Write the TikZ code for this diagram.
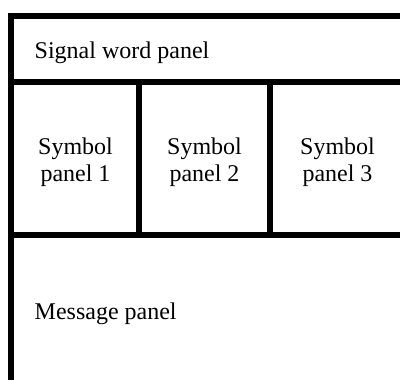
\documentclass[tikz,border=0pt]{standalone}
\usepackage{fontspec}
\setmainfont{Liberation Serif}
\usetikzlibrary{math}

\begin{document}
\begin{tikzpicture}
			[x=1pt,y=-1pt,frame/.style={draw,line width=6pt},txt/.style={inner sep=0pt,font=\fontsize{24}{27}\selectfont},]
			\tikzmath{\l=11; \r=405; \t=16; \b=394; \ya=82; \yb=235; \xa=139; \xb=270; }
			\clip (0,0) rectangle (400,380);
			\draw[frame] (\l,\t) rectangle (\r,\b);
			\draw[frame] (\l,\ya) -- (\r,\ya);
			\draw[frame] (\l,\yb) -- (\r,\yb);
			\draw[frame] (\xa,\ya) -- (\xa,\yb);
			\draw[frame] (\xb,\ya) -- (\xb,\yb);
			\node (signal) at (34.5,58.3)[txt,anchor=base west] {Signal word panel};
			\node (sym1) at (75.5,181)[txt,anchor=base,align=center] {Symbol\\panel 1};
			\node (sym2) at (204.5,181)[txt,anchor=base,align=center] {Symbol\\panel 2};
			\node (sym3) at (337.5,181)[txt,anchor=base,align=center] {Symbol\\panel 3};
			\node (message) at (34.5,319.3)[txt,anchor=base west] {Message panel};
			
	\end{tikzpicture}
\end{document}
